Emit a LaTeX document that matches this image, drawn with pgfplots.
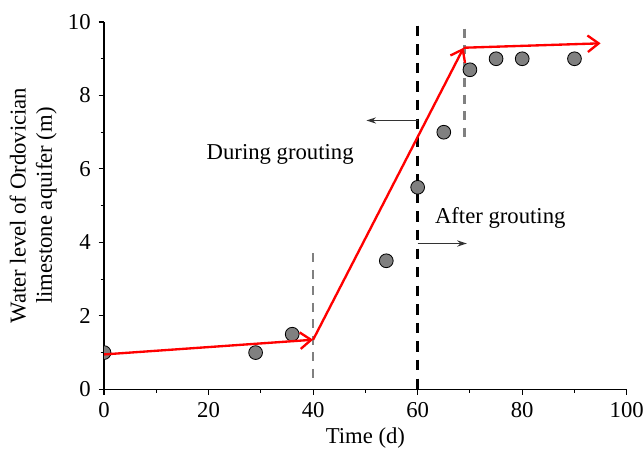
\documentclass[border=0pt]{standalone}
\usepackage{fontspec}
\setmainfont{Liberation Serif}
\usepackage{pgfplots}
\pgfplotsset{compat=1.18}
\usetikzlibrary{arrows.meta}
\begin{document}
\fontsize{16.5pt}{19pt}\selectfont
\begin{tikzpicture}
\begin{axis}[
  scale only axis,
  width=380pt, height=267pt,
  xmin=0, xmax=100, ymin=0, ymax=10,
  axis x line*=bottom, axis y line*=left,
  axis line style={line width=0.8pt, -},
  xtick={0,20,...,100}, ytick={0,2,...,10},
  minor x tick num=1, minor y tick num=1,
  tick align=outside,
  major tick length=4pt, minor tick length=2.5pt,
  tick style={black, line width=0.8pt},
  /pgf/number format/assume math mode=true,
  ticklabel style={font=\fontsize{16.5pt}{19pt}\selectfont},
  label style={font=\fontsize{16.5pt}{19pt}\selectfont},
  xlabel={Time (d)},
  ylabel={Water level of Ordovician\\limestone aquifer (m)},
  ylabel style={align=center, yshift=-3pt},
  xlabel style={yshift=4pt},
  clip=true,
  clip marker paths=true,
]
% black dashed at x=60
\addplot[black, line width=2pt, dash pattern=on 7.5pt off 6pt] coordinates {(60,9.9) (60,0)};
% gray dashed
\addplot[gray, line width=2pt, dash pattern=on 6.5pt off 5.5pt] coordinates {(40,3.7) (40,0.3)};
\addplot[gray, line width=2pt, dash pattern=on 6.5pt off 5.5pt, clip=false] coordinates {(69,10.27) (69,6.85)};
% small black arrows
\addplot[black!80, line width=0.8pt, -{Stealth[length=7pt,width=4.5pt]}] coordinates {(60,7.32) (50.2,7.32)};
\addplot[black!80, line width=0.8pt, -{Stealth[length=7pt,width=4.5pt]}] coordinates {(60,3.97) (69.4,3.97)};
% data points
\addplot[only marks, mark=*, mark size=5pt, mark options={fill=gray, draw=black, line width=0.6pt}] coordinates {
(0,1) (29,1) (36,1.5) (54,3.5) (60,5.5) (65,7) (70,8.7) (75,9) (80,9) (90,9)};
% red arrows
\addplot[red, line width=1.7pt, -{Straight Barb[length=8pt,width=12pt,line width=1.7pt]}] coordinates {(0,0.95) (40,1.35)};
\addplot[red, line width=1.7pt, -{Straight Barb[length=8pt,width=12pt,line width=1.7pt]}] coordinates {(40,1.35) (68.8,9.3)};
\addplot[red, line width=1.7pt, -{Straight Barb[length=8pt,width=12pt,line width=1.7pt]}, clip=false] coordinates {(68.8,9.3) (95,9.42)};
\node at (axis cs:33.7,6.39) {During grouting};
\node at (axis cs:75.8,4.67) {After grouting};
\coordinate (bbl) at (axis cs:-19.9,-1.63);
\coordinate (btr) at (axis cs:103.3,10.6);
\end{axis}
\pgfresetboundingbox
\path[use as bounding box] (bbl) rectangle (btr);
\end{tikzpicture}
\end{document}
